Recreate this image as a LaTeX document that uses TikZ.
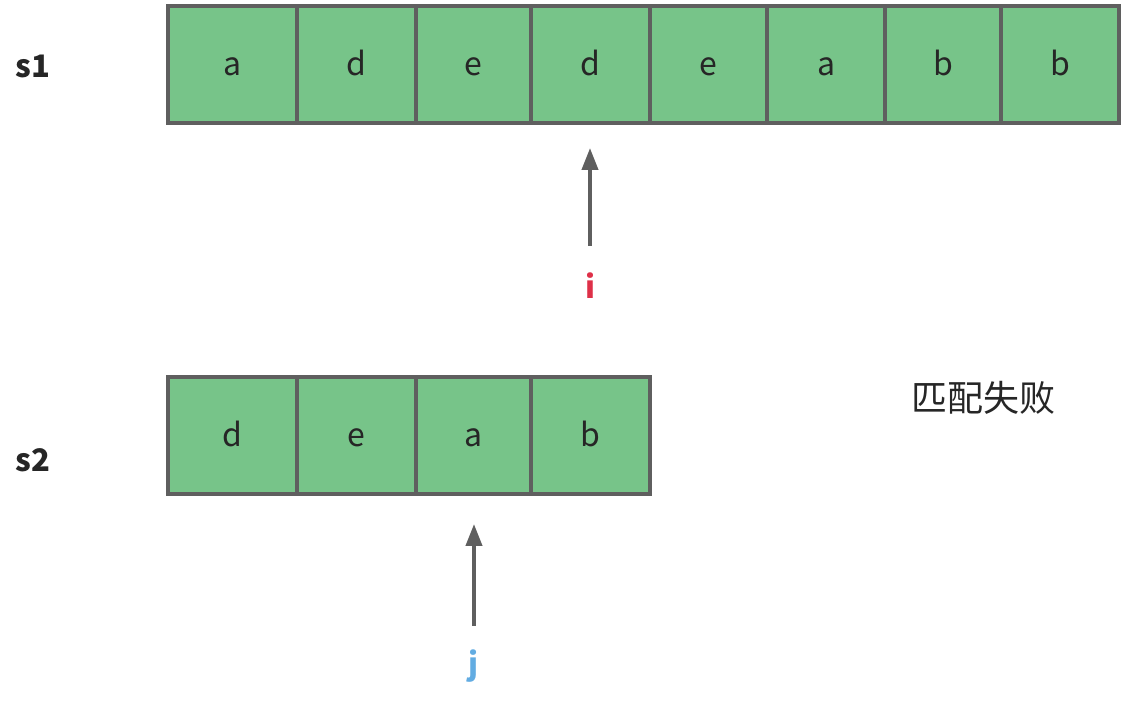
\documentclass[tikz,border=0pt]{standalone}
\usepackage{fontspec}
\setmainfont{Noto Sans CJK SC}
\usepackage{tikz}
\usetikzlibrary{arrows.meta, positioning}

\definecolor{cellgreen}{RGB}{119,196,137}
\definecolor{cellgray}{RGB}{95,95,95}
\definecolor{ptrred}{RGB}{222,48,72}
\definecolor{ptrblue}{RGB}{98,172,226}

\begin{document}
\begin{tikzpicture}[x=0.5pt, y=-0.5pt]
    \tikzstyle{cell} = [draw=cellgray, line width=1.8pt, fill=cellgreen, rectangle, minimum height=58.5pt, inner sep=0pt, text height=13pt, text depth=1.5pt, font=\fontsize{16}{19}\selectfont, text=black!85]
    \tikzstyle{rowlabel} = [font=\fontsize{15.5}{18}\selectfont\bfseries, text=black!85]
    \tikzstyle{line} = [draw=cellgray, line width=2pt, -{Triangle[width=8pt, length=11pt]}]

    \useasboundingbox (0,0) rectangle (1130,710);

    % row labels
    \node [rowlabel] (s1) at (33,66) {s1};
    \node [rowlabel] (s2) at (33,460) {s2};

    % first string
    \foreach \l/\a/\b [count=\k] in {a/168/297, d/297/416, e/416/531, d/531/650, e/650/767, a/767/885, b/885/1001, b/1001/1119}
        \node [cell, minimum width={(\b-\a)*0.5pt}] (c\k) at ({(\a+\b)/2},64.5) {\l};

    % second string
    \foreach \l/\a/\b [count=\k] in {d/168/297, e/297/416, a/416/531, b/531/650}
        \node [cell, minimum width={(\b-\a)*0.5pt}] (p\k) at ({(\a+\b)/2},435.5) {\l};

    \node [font=\fontsize{18}{21}\selectfont, text=black!85] (fail) at (983,398) {匹配失败};

    % pointers
    \node [rowlabel, text=ptrred] (i) at (590,286) {i};
    \node [rowlabel, text=ptrblue] (j) at (474,666) {j};
    \coordinate (ifoot) at (590,246);
    \coordinate (itip) at (590,148);
    \coordinate (jfoot) at (474,626);
    \coordinate (jtip) at (474,524);
    \draw [line] (ifoot) -- (itip);
    \draw [line] (jfoot) -- (jtip);
\end{tikzpicture}
\end{document}
